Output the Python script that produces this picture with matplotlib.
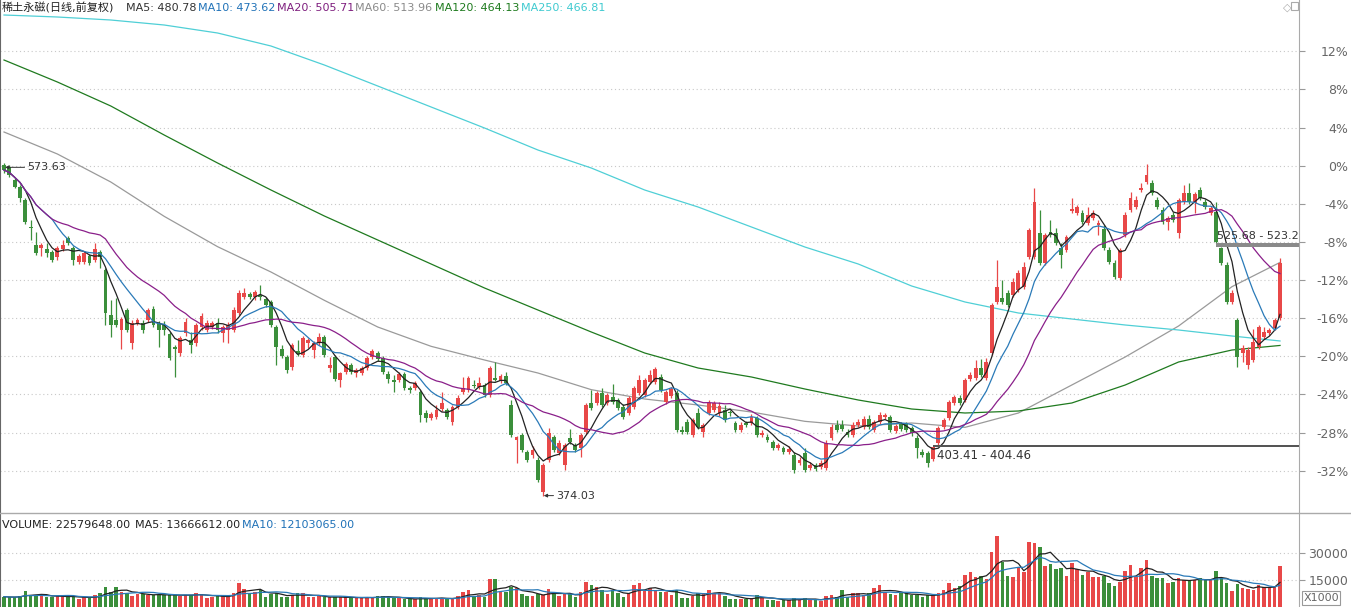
import numpy as np
import pandas as pd
import matplotlib

matplotlib.use("Agg")
import matplotlib.pyplot as plt
from matplotlib.lines import Line2D
from matplotlib.patches import Rectangle

plt.rcParams["font.family"] = ["DejaVu Sans", "Noto Sans CJK SC"]

# daily candles (price, 前复权)
opens = [
    572.4, 571.2, 563.4, 559.2, 551.4, 535.2, 524.4, 522.6, 522.0, 520.2,
    517.2, 522.0, 528.6, 522.6, 514.2, 514.2, 517.8, 515.4, 520.2, 509.4,
    482.4, 479.4, 473.4, 485.4, 465.6, 477.6, 477.6, 479.4, 486.0, 477.6,
    476.4, 471.0, 463.2, 459.6, 471.6, 467.4, 465.6, 475.2, 473.4, 475.2,
    477.6, 471.6, 473.4, 473.4, 483.6, 493.2, 495.0, 493.2, 494.4, 492.0,
    490.2, 475.2, 462.0, 457.2, 451.2, 460.8, 458.4, 465.6, 461.4, 465.6,
    469.2, 450.6, 457.2, 443.4, 448.2, 452.4, 447.6, 447.6, 450.6, 457.2,
    459.6, 456.6, 447.0, 443.4, 443.4, 447.0, 438.6, 438.6, 436.2, 423.6,
    420.6, 421.2, 426.0, 425.4, 418.2, 427.2, 436.2, 437.4, 440.4, 439.2,
    440.4, 434.4, 444.6, 442.8, 445.8, 428.4, 407.4, 410.4, 400.2, 398.4,
    395.4, 376.2, 395.4, 409.2, 399.6, 392.4, 408.6, 404.4, 402.6, 412.2,
    429.6, 429.6, 435.6, 429.6, 433.2, 431.4, 427.2, 423.6, 427.2, 435.6,
    434.4, 442.2, 442.2, 445.2, 430.2, 433.8, 435.6, 413.4, 418.2, 410.4,
    423.6, 412.2, 423.6, 425.4, 423.6, 425.4, 424.2, 417.6, 413.4, 417.6,
    417.6, 420.6, 410.4, 409.2, 406.2, 402.6, 402.6, 400.2, 398.4, 393.6,
    399.6, 390.6, 392.4, 391.2, 390.6, 408.6, 416.4, 416.4, 412.2, 410.4,
    416.4, 415.2, 420.0, 413.4, 418.2, 421.2, 421.2, 412.8, 417.0, 417.0,
    414.6, 408.6, 400.2, 399.6, 396.0, 405.6, 415.2, 420.6, 429.6, 432.6,
    431.4, 444.0, 444.6, 450.6, 444.6, 459.6, 490.2, 492.6, 495.6, 494.4,
    497.4, 499.2, 517.2, 517.2, 531.6, 513.6, 532.2, 531.6, 522.6, 521.4,
    544.8, 543.6, 543.6, 537.6, 540.6, 536.4, 534.0, 521.4, 513.6, 504.6,
    530.4, 545.4, 547.2, 557.4, 562.2, 561.6, 551.4, 545.4, 538.2, 542.4,
    531.6, 550.2, 555.6, 549.6, 557.4, 550.2, 543.6, 544.2, 522.6, 512.4,
    490.2, 479.4, 459.6, 452.4, 455.4, 463.2, 469.2, 471.6, 474.6, 480.6,
]
highs = [
    573.63, 572.4, 564.6, 560.4, 552.6, 539.4, 532.2, 525.6, 525.6, 521.4,
    523.8, 527.4, 529.8, 523.8, 519.0, 520.8, 519.0, 525.6, 521.4, 510.6,
    491.4, 492.6, 481.2, 486.6, 479.4, 480.6, 479.4, 486.6, 487.8, 478.8,
    478.8, 472.2, 464.4, 469.8, 480.6, 472.2, 477.6, 483.6, 479.4, 478.8,
    480.6, 476.4, 478.2, 487.2, 497.4, 498.6, 496.2, 497.4, 500.4, 493.2,
    491.4, 476.4, 464.4, 458.4, 465.6, 467.4, 469.8, 468.6, 466.8, 471.6,
    470.4, 457.2, 458.4, 448.2, 454.2, 453.6, 450.6, 451.8, 457.8, 462.0,
    460.8, 457.8, 448.8, 446.4, 448.2, 448.2, 439.8, 442.8, 437.4, 425.4,
    424.2, 428.4, 436.2, 426.6, 428.4, 434.4, 445.2, 445.8, 443.4, 445.2,
    441.6, 451.8, 454.2, 447.0, 448.2, 431.4, 409.8, 411.6, 401.4, 403.8,
    397.2, 393.6, 414.6, 410.4, 407.4, 405.6, 414.0, 405.6, 411.6, 429.6,
    437.4, 436.8, 438.6, 435.6, 441.0, 432.6, 429.0, 433.8, 439.8, 446.4,
    444.6, 449.4, 451.2, 447.0, 437.4, 439.2, 437.4, 415.8, 420.0, 420.6,
    426.6, 417.6, 431.4, 430.8, 430.2, 428.4, 425.4, 418.8, 418.2, 418.8,
    423.0, 421.8, 413.4, 411.0, 407.4, 405.6, 403.8, 403.8, 400.2, 397.2,
    402.6, 394.2, 393.6, 395.4, 407.4, 417.0, 419.4, 419.4, 414.0, 418.2,
    420.0, 421.8, 422.4, 419.4, 424.2, 423.6, 422.4, 417.0, 418.2, 418.2,
    415.8, 410.4, 402.0, 400.8, 403.41, 415.8, 420.6, 431.4, 434.4, 434.4,
    444.6, 448.2, 455.4, 456.0, 456.6, 489.6, 515.4, 503.4, 497.4, 504.6,
    509.4, 514.2, 534.6, 558.6, 545.4, 531.6, 539.4, 534.6, 525.6, 530.4,
    552.6, 548.4, 545.4, 547.2, 545.4, 539.4, 536.4, 523.2, 515.4, 522.6,
    544.2, 556.2, 553.8, 561.6, 572.9, 563.4, 553.2, 547.2, 541.8, 544.2,
    552.6, 560.4, 561.6, 556.2, 559.2, 552.0, 547.8, 550.2, 523.2, 514.2,
    497.4, 480.6, 464.4, 463.2, 474.0, 476.4, 475.2, 474.6, 480.6, 516.6,
]
lows = [
    567.6, 565.2, 558.6, 550.2, 537.0, 527.4, 518.4, 517.8, 517.2, 514.2,
    515.4, 520.8, 524.4, 512.4, 513.0, 513.0, 512.4, 514.2, 510.6, 476.4,
    469.2, 475.2, 462.0, 472.2, 462.0, 476.4, 471.6, 478.2, 475.2, 463.2,
    470.4, 455.4, 445.2, 457.8, 469.8, 459.6, 463.8, 473.4, 472.2, 474.0,
    471.6, 466.2, 465.6, 472.2, 482.4, 492.0, 492.0, 491.4, 491.4, 487.2,
    475.2, 452.4, 456.6, 447.6, 449.4, 457.8, 457.2, 462.6, 456.6, 464.4,
    457.2, 448.2, 442.8, 439.2, 447.0, 447.0, 445.2, 446.4, 449.4, 456.0,
    454.8, 447.0, 441.6, 436.2, 442.2, 437.4, 435.6, 437.4, 418.2, 418.2,
    419.4, 420.0, 424.8, 420.0, 416.4, 426.0, 435.0, 436.2, 438.6, 438.0,
    433.2, 433.2, 442.8, 441.6, 440.4, 409.2, 393.6, 400.2, 394.2, 396.6,
    382.2, 374.03, 394.2, 400.2, 398.4, 389.4, 405.0, 400.2, 397.2, 411.0,
    425.4, 428.4, 427.2, 428.4, 429.0, 425.4, 420.0, 422.4, 426.0, 434.4,
    433.2, 441.0, 441.0, 436.2, 429.0, 432.6, 412.2, 411.0, 411.0, 409.2,
    414.0, 409.2, 422.4, 424.2, 421.8, 418.2, 421.8, 412.2, 412.2, 415.2,
    416.4, 409.2, 409.2, 406.2, 401.4, 401.4, 399.0, 399.0, 387.6, 392.4,
    388.2, 389.4, 388.8, 390.0, 389.4, 407.4, 412.2, 412.8, 409.2, 409.2,
    415.2, 414.0, 414.0, 412.2, 417.0, 420.0, 412.2, 411.6, 412.8, 412.2,
    409.8, 396.6, 397.2, 391.2, 394.8, 404.46, 414.0, 419.4, 428.4, 428.4,
    430.2, 442.8, 443.4, 445.2, 443.4, 458.4, 489.0, 489.0, 487.2, 493.2,
    496.2, 498.0, 516.0, 516.0, 512.4, 512.4, 529.2, 524.4, 510.6, 520.2,
    543.6, 542.4, 537.0, 536.4, 539.4, 530.4, 521.4, 513.0, 504.0, 503.4,
    529.2, 544.2, 546.0, 556.2, 561.0, 554.4, 546.0, 537.0, 533.4, 538.2,
    528.6, 549.0, 549.0, 543.6, 551.4, 546.0, 542.4, 525.68, 512.4, 489.0,
    489.0, 451.2, 454.2, 450.0, 454.2, 462.0, 468.0, 470.4, 473.4, 479.4,
]
closes = [
    569.4, 566.4, 559.2, 552.6, 538.2, 534.6, 519.6, 524.4, 519.6, 515.4,
    522.6, 524.4, 525.6, 515.4, 517.8, 519.6, 513.6, 522.0, 517.2, 483.6,
    476.4, 476.4, 480.0, 473.4, 477.6, 479.4, 473.4, 485.4, 476.4, 473.4,
    473.4, 456.6, 462.0, 468.6, 478.2, 464.4, 476.4, 481.8, 477.6, 477.6,
    473.4, 475.2, 476.4, 485.4, 495.6, 495.6, 493.2, 496.2, 493.2, 488.4,
    476.4, 463.2, 457.8, 449.4, 464.4, 459.0, 468.6, 467.4, 465.6, 469.2,
    458.4, 452.4, 444.0, 447.6, 453.0, 448.2, 449.4, 450.6, 456.6, 460.8,
    456.0, 448.2, 444.0, 442.2, 447.0, 438.6, 437.4, 441.6, 422.4, 420.6,
    423.0, 425.4, 429.6, 421.2, 427.2, 432.6, 438.6, 444.6, 439.8, 441.6,
    434.4, 450.6, 443.4, 445.8, 441.6, 410.4, 409.2, 401.4, 395.4, 401.4,
    383.4, 392.4, 411.6, 401.4, 405.6, 404.4, 406.2, 401.4, 410.4, 428.4,
    426.6, 435.6, 428.4, 434.4, 430.2, 426.6, 421.2, 432.6, 438.6, 443.4,
    443.4, 446.4, 450.0, 437.4, 436.2, 437.8, 413.4, 412.2, 412.2, 419.4,
    415.2, 416.4, 429.6, 429.6, 427.8, 419.4, 423.6, 413.4, 416.4, 416.4,
    421.2, 410.4, 411.6, 407.4, 402.6, 404.4, 400.2, 402.0, 389.4, 395.4,
    389.4, 392.4, 390.0, 393.6, 405.6, 415.2, 413.4, 414.0, 410.4, 416.4,
    418.2, 420.0, 415.2, 418.2, 422.4, 422.4, 413.4, 415.8, 414.0, 413.4,
    411.6, 402.6, 398.4, 393.6, 403.2, 414.6, 419.4, 430.2, 433.2, 429.6,
    443.4, 446.4, 450.6, 446.4, 454.2, 488.4, 499.2, 490.2, 488.4, 502.2,
    507.6, 511.2, 533.4, 550.2, 513.6, 530.4, 530.4, 525.6, 518.4, 529.2,
    546.0, 547.2, 538.2, 542.4, 543.6, 537.6, 522.6, 514.2, 505.2, 521.4,
    542.4, 552.6, 551.4, 558.6, 566.4, 555.6, 547.2, 538.2, 540.6, 539.4,
    551.4, 555.6, 550.2, 555.0, 552.6, 547.2, 546.6, 526.2, 513.6, 490.2,
    495.6, 457.2, 462.6, 461.4, 466.2, 475.2, 472.2, 473.4, 479.4, 513.6,
]
# volume, X1000
volumes = [
    5740, 5370, 5370, 6110, 8890, 6670, 6670, 6670, 5370, 5370,
    6110, 6110, 6110, 5370, 4260, 5370, 5370, 6670, 7590, 10930,
    8520, 10930, 8520, 7960, 6110, 7220, 7220, 6670, 6670, 6670,
    6670, 6670, 6670, 6110, 6670, 6670, 7590, 7220, 4810, 5370,
    6110, 6110, 6670, 7590, 13520, 9810, 7960, 8520, 9440, 5740,
    7220, 7590, 5370, 5740, 6670, 7590, 7590, 5370, 5370, 6110,
    5370, 5370, 5370, 5370, 5370, 5370, 4810, 4810, 5740, 5370,
    6110, 6110, 5370, 4810, 4810, 4260, 4260, 4260, 5370, 4810,
    4810, 4810, 5170, 4440, 4440, 6280, 8500, 9450, 5720, 6670,
    5720, 15390, 15390, 8500, 8500, 11280, 10390, 7060, 6280, 6280,
    7060, 6670, 10000, 7610, 6280, 7060, 7060, 5720, 8170, 13720,
    12220, 11280, 9450, 7060, 9450, 7610, 5720, 7610, 12220, 13170,
    8890, 10390, 8890, 8500, 8500, 6670, 9450, 5170, 5170, 6280,
    7610, 7610, 9450, 7610, 7610, 6280, 4440, 4440, 4440, 4440,
    5170, 6670, 5170, 3890, 3890, 3330, 3890, 3890, 5170, 3890,
    5170, 3890, 3890, 3330, 6280, 6670, 5720, 9450, 5720, 7610,
    7610, 6670, 7610, 10390, 12220, 8500, 7060, 6670, 7610, 7610,
    6670, 6670, 5390, 6670, 6670, 7950, 9450, 13170, 10390, 11670,
    17780, 19610, 16830, 17220, 15390, 30720, 39450, 25170, 17220, 16830,
    22060, 19610, 36280, 35720, 33500, 22780, 23890, 20950, 21500, 17220,
    24280, 20950, 17780, 19610, 16830, 16830, 17220, 13500, 11670, 14060,
    20170, 23340, 16830, 21500, 26110, 17220, 15950, 15950, 13500, 14060,
    15950, 15000, 15000, 15000, 15950, 15000, 15000, 20000, 15950, 13500,
    9000, 13000, 10800, 10200, 9700, 12500, 11000, 11000, 11250, 22579.648,
]

# long moving averages every 10 sessions
ma_long_idx = [0, 10, 20, 30, 40, 50, 60, 70, 80, 90, 100, 110, 120,
               130, 140, 150, 160, 170, 180, 190, 200, 210, 220, 230, 239]
ma60 = [592.2, 579.0, 562.2, 541.6, 523.4, 508.2, 491.2, 475.2, 463.6, 455.4,
        447.6, 437.6, 432.0, 428.4, 424.2, 418.6, 415.8, 417.6, 415.0, 423.6,
        440.4, 457.2, 475.8, 499.4, 513.96]
ma120 = [635.4, 622.2, 607.8, 590.4, 573.6, 557.4, 541.8, 527.4, 513.0, 498.6,
         485.4, 472.2, 459.6, 450.6, 445.2, 438.0, 431.4, 426.0, 423.6, 424.8,
         429.6, 440.4, 454.2, 461.4, 464.13]
ma250 = [662.4, 661.2, 659.4, 656.4, 651.6, 643.8, 632.4, 619.8, 607.2, 594.6,
         581.4, 570.6, 557.4, 547.2, 535.2, 523.2, 513.0, 499.8, 490.2, 483.6,
         480.0, 476.4, 473.4, 469.8, 466.81]

pct_ticks = [12, 8, 4, 0, -4, -8, -12, -16, -20, -24, -28, -32]
base_price = 572.0
vol_ticks = [15000, 30000]

RED = "#e84848"
GREEN = "#3b8f3b"
W, H = 1351, 607


def fx(px):
    return px / W


def fy(py):
    return 1 - py / H


fig = plt.figure(figsize=(W / 100, H / 100), dpi=100)
fig.patch.set_facecolor("white")
ax = fig.add_axes([0, fy(513), 1299 / W, 513 / H])
vax = fig.add_axes([0, 0, 1299 / W, 94 / H])

o = np.array(opens)
hi = np.array(highs)
lo = np.array(lows)
c = np.array(closes)
v = np.array(volumes)
idx = np.arange(len(c))
cols = np.where(c >= o, RED, GREEN)

# candles
ax.vlines(idx, lo, hi, colors=cols, lw=0.9, zorder=3)
ax.bar(idx, np.maximum(np.abs(c - o), 0.6), bottom=np.minimum(o, c),
       width=0.72, color=cols, linewidth=0, zorder=3)

cs = pd.Series(c)
ax.plot(idx, cs.rolling(5, min_periods=1).mean(), color="#222222", lw=0.9, zorder=4)
ax.plot(idx, cs.rolling(10, min_periods=1).mean(), color="#2a7ab8", lw=0.9, zorder=4)
ax.plot(idx, cs.rolling(20, min_periods=1).mean(), color="#8a1f8a", lw=0.9, zorder=4)
ax.plot(ma_long_idx, ma60, color="#9a9a9a", lw=0.9, zorder=2)
ax.plot(ma_long_idx, ma120, color="#1f7a1f", lw=0.9, zorder=2)
ax.plot(ma_long_idx, ma250, color="#4fcfd6", lw=0.9, zorder=2)

xmax = -0.75 + 1299 / 5.339
ax.set_xlim(-0.75, xmax)
ax.set_ylim(363.6, 671.4)

tick_prices = [base_price * (1 + p / 100) for p in pct_ticks]
for tp in tick_prices:
    ax.axhline(tp, color="#c8c8c8", lw=0.8, ls=(0, (1, 2.5)), zorder=1)
ax.set_xticks([])
ax.yaxis.tick_right()
ax.set_yticks(tick_prices)
ax.set_yticklabels([f"{p}%" for p in pct_ticks])
ax.tick_params(axis="y", direction="out", length=4, width=0.8, color="#999999",
               labelsize=9, labelcolor="#666666", pad=31.5)
for lbl in ax.get_yticklabels():
    lbl.set_horizontalalignment("right")

# gap zones
ax.fill_between([227, xmax], 523.2, 525.68, color="#8a8a8a", lw=0, zorder=5)
ax.text(227.2, 526.6, "525.68 - 523.2", fontsize=8, color="#333333",
        va="bottom", ha="left", zorder=6)
ax.fill_between([174, xmax], 403.41, 404.46, color="#555555", lw=0, zorder=5)
ax.text(174.8, 402.0, "403.41 - 404.46", fontsize=8.5, color="#333333",
        va="top", ha="left", zorder=6)

# high / low markers
ax.annotate("573.63", xy=(0.2, 571.0), xytext=(16, 0), textcoords="offset points",
            fontsize=8, color="#333333", va="center",
            arrowprops=dict(arrowstyle="-|>", color="#333333", lw=0.7,
                            mutation_scale=5, shrinkA=0, shrinkB=0))
ax.annotate("374.03", xy=(101.1, 374.03), xytext=(9, 0), textcoords="offset points",
            fontsize=8, color="#333333", va="center",
            arrowprops=dict(arrowstyle="-|>", color="#333333", lw=0.7,
                            mutation_scale=5, shrinkA=0, shrinkB=0))

for a in (ax, vax):
    a.set_facecolor("white")
    a.spines["top"].set_visible(False)
    a.spines["bottom"].set_visible(False)
    a.spines["left"].set_color("#666666")
    a.spines["right"].set_color("#aaaaaa")

# volume panel
vax.bar(idx, v, width=0.66, color=cols, linewidth=0, zorder=3)
vs = pd.Series(v)
vax.plot(idx, vs.rolling(5, min_periods=1).mean(), color="#222222", lw=0.9, zorder=4)
vax.plot(idx, vs.rolling(10, min_periods=1).mean(), color="#2a7ab8", lw=0.9, zorder=4)
vax.set_xlim(-0.75, xmax)
vax.set_ylim(0, 15000 * 94 / 27)
for vt in vol_ticks:
    vax.axhline(vt, color="#c8c8c8", lw=0.8, ls=(0, (1, 2.5)), zorder=1)
vax.set_xticks([])
vax.yaxis.tick_right()
vax.set_yticks(vol_ticks)
vax.set_yticklabels([str(t) for t in vol_ticks])
vax.tick_params(axis="y", direction="out", length=4, width=0.8, color="#999999",
                labelsize=9, labelcolor="#666666", pad=31.5)
for lbl in vax.get_yticklabels():
    lbl.set_horizontalalignment("right")

fig.add_artist(Line2D([0, 1], [fy(513), fy(513)], color="#aaaaaa", lw=1))
fig.text(fx(1321), fy(598), "X1000", fontsize=8, color="#666666", ha="center",
         va="center", bbox=dict(boxstyle="square,pad=0.15", fc="white", ec="#999999", lw=0.8))

# header texts
header = [
    ("稀土永磁(日线,前复权)", 2, "#222222"),
    ("MA5: 480.78", 126, "#333333"),
    ("MA10: 473.62", 198, "#2072b8"),
    ("MA20: 505.71", 277, "#7f1f7f"),
    ("MA60: 513.96", 355, "#8a8a8a"),
    ("MA120: 464.13", 435, "#1e7b1e"),
    ("MA250: 466.81", 521, "#3fcad0"),
]
for txt, xp, col in header:
    fig.text(fx(xp), fy(8), txt, fontsize=8, color=col, ha="left", va="center")

vol_header = [
    ("VOLUME: 22579648.00", 2, "#222222"),
    ("MA5: 13666612.00", 135, "#222222"),
    ("MA10: 12103065.00", 242, "#2072b8"),
]
for txt, xp, col in vol_header:
    fig.text(fx(xp), fy(525), txt, fontsize=8, color=col, ha="left", va="center")

fig.text(fx(1283), fy(8), "◇", fontsize=8, color="#aaaaaa", ha="left", va="center")
fig.add_artist(Rectangle((fx(1291), fy(10)), 7 / W, 8 / H, fill=False,
                         ec="#aaaaaa", lw=0.8, transform=fig.transFigure))

fig.savefig("out.png", dpi=100, facecolor="white")
